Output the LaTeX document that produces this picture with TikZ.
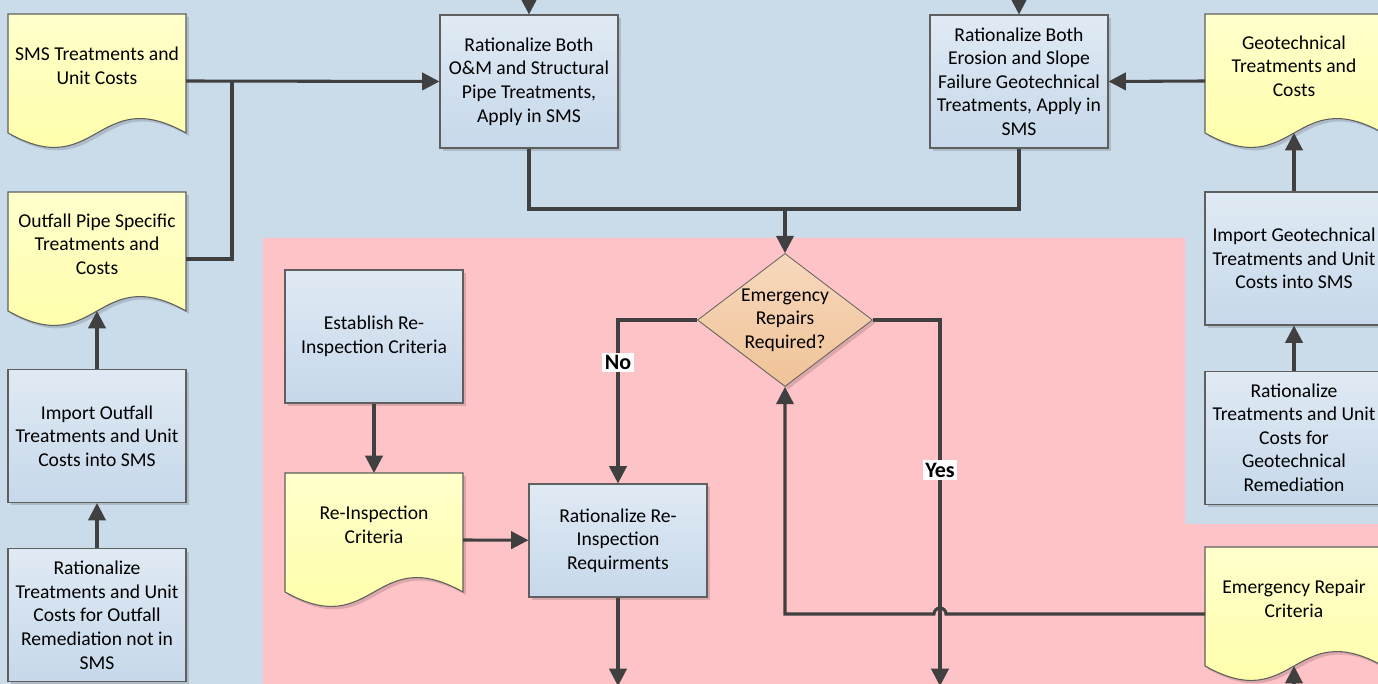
\documentclass[tikz,border=0pt]{standalone}
\usepackage{fontspec}
\setmainfont{Carlito}
\usetikzlibrary{arrows.meta,positioning,calc,shapes.geometric,shadows}
\definecolor{bgblue}{HTML}{CADCEA}
\definecolor{bgpink}{HTML}{FEC3C6}
\definecolor{proctop}{HTML}{E0EAF4}
\definecolor{procbot}{HTML}{C6D8EA}
\definecolor{doctop}{HTML}{FFFFCC}
\definecolor{docbot}{HTML}{FFFFA4}
\definecolor{dectop}{HTML}{F7D8BD}
\definecolor{decbot}{HTML}{F0C397}
\definecolor{edge}{HTML}{5F5F5F}
\definecolor{wire}{HTML}{404040}

% document sheet with a wavy foot, #1 = name of its centre
\newcommand{\docsheet}[3]{%
  \coordinate (#1) at #2;
  \path[docfill] ($(#1)+(-89,-67)$) -- ($(#1)+(89,-67)$) -- ($(#1)+(89,52)$)
    .. controls ($(#1)+(0,2)$) and ($(#1)+(0,102)$) .. ($(#1)+(-89,52)$) -- cycle;
  \coordinate (#1-n) at ($(#1)+(0,-67)$);
  \coordinate (#1-s) at ($(#1)+(0,52)$);
  \coordinate (#1-e) at ($(#1)+(89,0)$);
  \coordinate (#1-w) at ($(#1)+(-89,0)$);
  \node[align=center] (#1-text) at ($(#1)+(0,-15)$) {#3};
}

\begin{document}
\begin{tikzpicture}[
  x=0.75pt, y=-0.75pt,
  font=\fontsize{14.7pt}{17.7pt}\selectfont,
  softshadow/.style={drop shadow={shadow xshift=2.2pt, shadow yshift=-2.2pt, fill=black, opacity=.14}},
  procbox/.style={rectangle, draw=edge, line width=0.8pt, top color=proctop, bottom color=procbot, minimum width=133.5pt, minimum height=99.75pt, inner sep=2pt, align=center, softshadow},
  docfill/.style={draw=edge, line width=0.8pt, top color=doctop, bottom color=docbot, softshadow},
  decision/.style={diamond, aspect=1.32, draw=edge, line width=0.6pt, top color=dectop, bottom color=decbot, minimum width=131.25pt, minimum height=99.75pt, inner sep=0pt, align=center, softshadow},
  flag/.style={fill=white, font=\fontsize{16.5pt}{18pt}\selectfont\bfseries, inner sep=1.8pt},
  wire/.style={draw=wire, line width=2.3pt},
  arrow/.style={wire, -{Triangle[length=13pt, width=13pt]}}
]
\useasboundingbox (0,0) rectangle (1378,684);
\clip (0,0) rectangle (1378,684);
\fill[bgblue] (0,0) rectangle (1378,684);
\fill[bgpink] (263,238) -- (1185,238) -- (1185,524) -- (1378,524) -- (1378,700) -- (263,700) -- cycle;

% outfall column
\docsheet{smsDoc}{(97,81)}{SMS Treatments and\\Unit Costs}
\docsheet{outDoc}{(97,259)}{Outfall Pipe Specific\\Treatments and\\Costs}
\node[procbox] (impOut) at (97,436) {Import Outfall\\Treatments and Unit\\Costs into SMS};
\node[procbox, below=33.75pt of impOut] (ratOut) {Rationalize\\Treatments and Unit\\Costs for Outfall\\Remediation not in\\SMS};

% top row
\node[procbox] (omBox) at (529,81.5) {Rationalize Both\\O\&M and Structural\\Pipe Treatments,\\Apply in SMS};
\node[procbox] (eroBox) at (1019,81.5) {Rationalize Both\\Erosion and Slope\\Failure Geotechnical\\Treatments, Apply in\\SMS};

% geotechnical column
\docsheet{geoDoc}{(1294,81)}{Geotechnical\\Treatments and\\Costs}
\node[procbox] (impGeo) at (1294,258.5) {Import Geotechnical\\Treatments and Unit\\Costs into SMS};
\node[procbox, below=33.75pt of impGeo] (ratGeo) {Rationalize\\Treatments and Unit\\Costs for\\Geotechnical\\Remediation};

% re-inspection
\node[procbox] (estBox) at (374,336.5) {Establish Re-\\Inspection Criteria};
\docsheet{riDoc}{(374,540)}{Re-Inspection\\Criteria}
\node[procbox, minimum height=84.75pt] (riBox) at (618,540.5) {Rationalize Re-\\Inspection\\Requirments};
\node[decision] (dec) at (785,320) {Emergency\\Repairs\\Required?};
\docsheet{erDoc}{(1294,614)}{Emergency Repair\\Criteria}

% free ends
\coordinate (omIn) at (529,-20);
\coordinate (eroIn) at (1019,-20);
\coordinate (merge) at (785,209);
\coordinate (riOut) at (618,686);
\coordinate (yesOut) at (940,686);
\coordinate (erIn) at (1294,700);

\draw[arrow] (smsDoc-e) -- (omBox.west);
\draw[wire] (outDoc-e) -| ($(smsDoc-e)+(46,0)$);
\draw[arrow] (impOut) -- (outDoc-s);
\draw[arrow] (ratOut) -- (impOut);
\draw[arrow] (omIn) -- (omBox);
\draw[arrow] (eroIn) -- (eroBox);
\draw[wire] (omBox.south) |- (merge) -| (eroBox.south);
\draw[arrow] (merge) -- (dec);
\draw[arrow] (geoDoc-w) -- (eroBox.east);
\draw[arrow] (impGeo) -- (geoDoc-s);
\draw[arrow] (ratGeo) -- (impGeo);
\draw[arrow] (estBox) -- (riDoc-n);
\draw[arrow] (riDoc-e) -- (riBox);
\draw[arrow] (riBox) -- (riOut);
\draw[arrow] (dec.west) -| node[flag, pos=.63] {No} (riBox.north);
\draw[arrow] (dec.east) -| node[flag, pos=.705] {Yes} (yesOut);
\draw[arrow] (erDoc-w) -- ($(yesOut |- erDoc-w)+(6,0)$) arc[start angle=0, end angle=180, radius=4.5pt] -| (dec.south);
\draw[arrow] (erIn) -- (erDoc-s);
\end{tikzpicture}
\end{document}
